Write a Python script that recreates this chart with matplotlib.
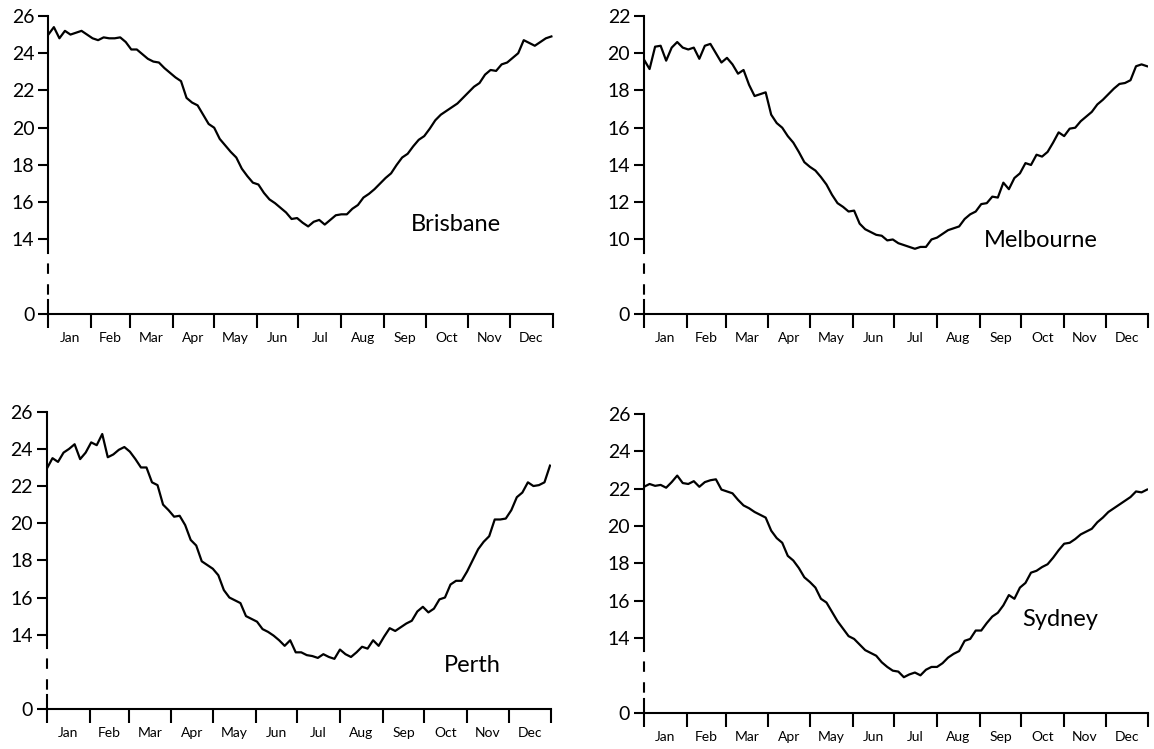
import numpy as np
import matplotlib.pyplot as plt

plt.rcParams['font.family'] = ['Lato', 'DejaVu Sans']

# mean daily temperature, sampled every 4 days (day 0 = 1 Jan)
days = np.arange(0, 365, 4)

brisbane = [25.0, 25.4, 24.8, 25.2, 25.0, 25.1, 25.2, 25.0, 24.8, 24.7,
            24.85, 24.8, 24.8, 24.85, 24.6, 24.2, 24.2, 23.95, 23.7, 23.55,
            23.5, 23.2, 22.95, 22.7, 22.5, 21.6, 21.35, 21.2, 20.7, 20.2,
            20.0, 19.4, 19.05, 18.7, 18.4, 17.8, 17.4, 17.05, 16.95, 16.5,
            16.15, 15.95, 15.7, 15.45, 15.1, 15.15, 14.9, 14.7, 14.95, 15.05,
            14.8, 15.05, 15.3, 15.35, 15.35, 15.65, 15.85, 16.25, 16.45, 16.7,
            17.0, 17.3, 17.55, 18.0, 18.4, 18.6, 19.0, 19.35, 19.55, 19.95,
            20.4, 20.7, 20.9, 21.1, 21.3, 21.6, 21.9, 22.2, 22.4, 22.85,
            23.1, 23.05, 23.4, 23.5, 23.75, 24.0, 24.7, 24.55, 24.4, 24.6,
            24.8, 24.9]

melbourne = [19.65, 19.15, 20.35, 20.4, 19.6, 20.3, 20.6, 20.3, 20.2, 20.3,
             19.7, 20.4, 20.5, 20.0, 19.5, 19.75, 19.4, 18.9, 19.1, 18.3,
             17.7, 17.8, 17.9, 16.7, 16.25, 16.0, 15.55, 15.2, 14.7, 14.15,
             13.9, 13.7, 13.35, 12.95, 12.4, 11.95, 11.75, 11.5, 11.55, 10.85,
             10.55, 10.4, 10.25, 10.2, 9.95, 10.0, 9.8, 9.7, 9.6, 9.5,
             9.6, 9.6, 10.0, 10.1, 10.3, 10.5, 10.6, 10.7, 11.1, 11.35,
             11.5, 11.9, 11.95, 12.3, 12.25, 13.05, 12.7, 13.3, 13.55, 14.1,
             14.0, 14.55, 14.45, 14.7, 15.2, 15.75, 15.55, 15.95, 16.0, 16.35,
             16.6, 16.85, 17.25, 17.5, 17.8, 18.1, 18.35, 18.4, 18.55, 19.3,
             19.4, 19.3]

perth = [22.95, 23.5, 23.3, 23.8, 24.0, 24.25, 23.45, 23.8, 24.35, 24.2,
         24.8, 23.55, 23.7, 23.95, 24.1, 23.85, 23.45, 23.0, 23.0, 22.2,
         22.05, 21.0, 20.7, 20.35, 20.4, 19.9, 19.1, 18.8, 17.95, 17.75,
         17.55, 17.2, 16.4, 16.0, 15.85, 15.7, 15.0, 14.85, 14.7, 14.3,
         14.15, 13.95, 13.7, 13.4, 13.7, 13.05, 13.05, 12.9, 12.85, 12.75,
         12.95, 12.8, 12.7, 13.2, 12.95, 12.8, 13.05, 13.35, 13.25, 13.7,
         13.4, 13.9, 14.35, 14.2, 14.4, 14.6, 14.75, 15.25, 15.5, 15.2,
         15.4, 15.9, 16.0, 16.7, 16.9, 16.9, 17.4, 18.0, 18.6, 19.0,
         19.3, 20.2, 20.2, 20.25, 20.7, 21.4, 21.65, 22.2, 22.0, 22.05,
         22.2, 23.1]

sydney = [22.1, 22.25, 22.15, 22.2, 22.05, 22.35, 22.7, 22.3, 22.25, 22.4,
          22.1, 22.35, 22.45, 22.5, 21.95, 21.85, 21.75, 21.4, 21.1, 20.95,
          20.75, 20.6, 20.45, 19.75, 19.35, 19.1, 18.4, 18.15, 17.75, 17.25,
          17.0, 16.7, 16.1, 15.9, 15.4, 14.9, 14.5, 14.1, 13.95, 13.65,
          13.35, 13.2, 13.05, 12.7, 12.45, 12.25, 12.2, 11.9, 12.05, 12.15,
          12.0, 12.3, 12.45, 12.45, 12.65, 12.95, 13.15, 13.3, 13.85, 13.95,
          14.4, 14.4, 14.8, 15.15, 15.35, 15.75, 16.3, 16.1, 16.7, 16.95,
          17.5, 17.6, 17.8, 17.95, 18.3, 18.7, 19.05, 19.1, 19.3, 19.55,
          19.7, 19.85, 20.2, 20.45, 20.75, 20.95, 21.15, 21.35, 21.55, 21.85,
          21.8, 21.95]

cities = ['Brisbane', 'Melbourne', 'Perth', 'Sydney']
series = [brisbane, melbourne, perth, sydney]
lowest_tick = [14, 10, 14, 14]
label_xy = [(262, 14.45), (246, 9.57), (287, 11.97), (274, 14.63)]

months = ['Jan', 'Feb', 'Mar', 'Apr', 'May', 'Jun',
          'Jul', 'Aug', 'Sep', 'Oct', 'Nov', 'Dec']
month_edges = np.array([0, 31, 59, 90, 120, 151, 181, 212, 243, 273, 304, 334, 365])
month_mids = (month_edges[:-1] + month_edges[1:]) / 2

fig = plt.figure(figsize=(11.54, 7.49), dpi=100)
rects = [[0.0419, 0.5808, 0.4371, 0.3979],
         [0.5581, 0.5808, 0.4371, 0.3979],
         [0.0407, 0.0534, 0.4371, 0.3969],
         [0.5581, 0.0485, 0.4371, 0.3988]]

for rect, city, vals, low, (tx, ty) in zip(rects, cities, series, lowest_tick, label_xy):
    ax = fig.add_axes(rect)
    ax.plot(days, vals, color='black', lw=1.6)

    top = low + 12
    bot = low - 4
    ax.set_xlim(0, 365)
    ax.set_ylim(bot, top)

    for s in ['top', 'right', 'left']:
        ax.spines[s].set_visible(False)
    ax.spines['bottom'].set_linewidth(1.5)

    # broken y axis: solid, dashed gap, short solid stub at zero
    trans = ax.get_yaxis_transform()
    ax.plot([0, 0], [low - 0.7, top], color='black', lw=1.5, transform=trans, clip_on=False)
    ax.plot([0, 0], [low - 0.7, bot + 0.75], color='black', lw=1.5, ls=(5, (5, 5)),
            transform=trans, clip_on=False)
    ax.plot([0, 0], [bot, bot + 0.75], color='black', lw=1.5, transform=trans, clip_on=False)

    ax.set_xticks(month_edges)
    ax.set_xticklabels([])
    ax.set_xticks(month_mids, minor=True)
    ax.set_xticklabels(months, minor=True)
    ax.tick_params(axis='x', which='major', length=10, width=1.5)
    ax.tick_params(axis='x', which='minor', length=0, pad=13, labelsize=10)

    yt = [bot] + list(range(low, top + 1, 2))
    ax.set_yticks(yt)
    ax.set_yticklabels(['0'] + [str(v) for v in yt[1:]])
    ax.tick_params(axis='y', length=7, width=1.5, labelsize=14, pad=3)

    ax.text(tx, ty, city, fontsize=17, ha='left', va='baseline')

fig.savefig('out.png', dpi=100)
